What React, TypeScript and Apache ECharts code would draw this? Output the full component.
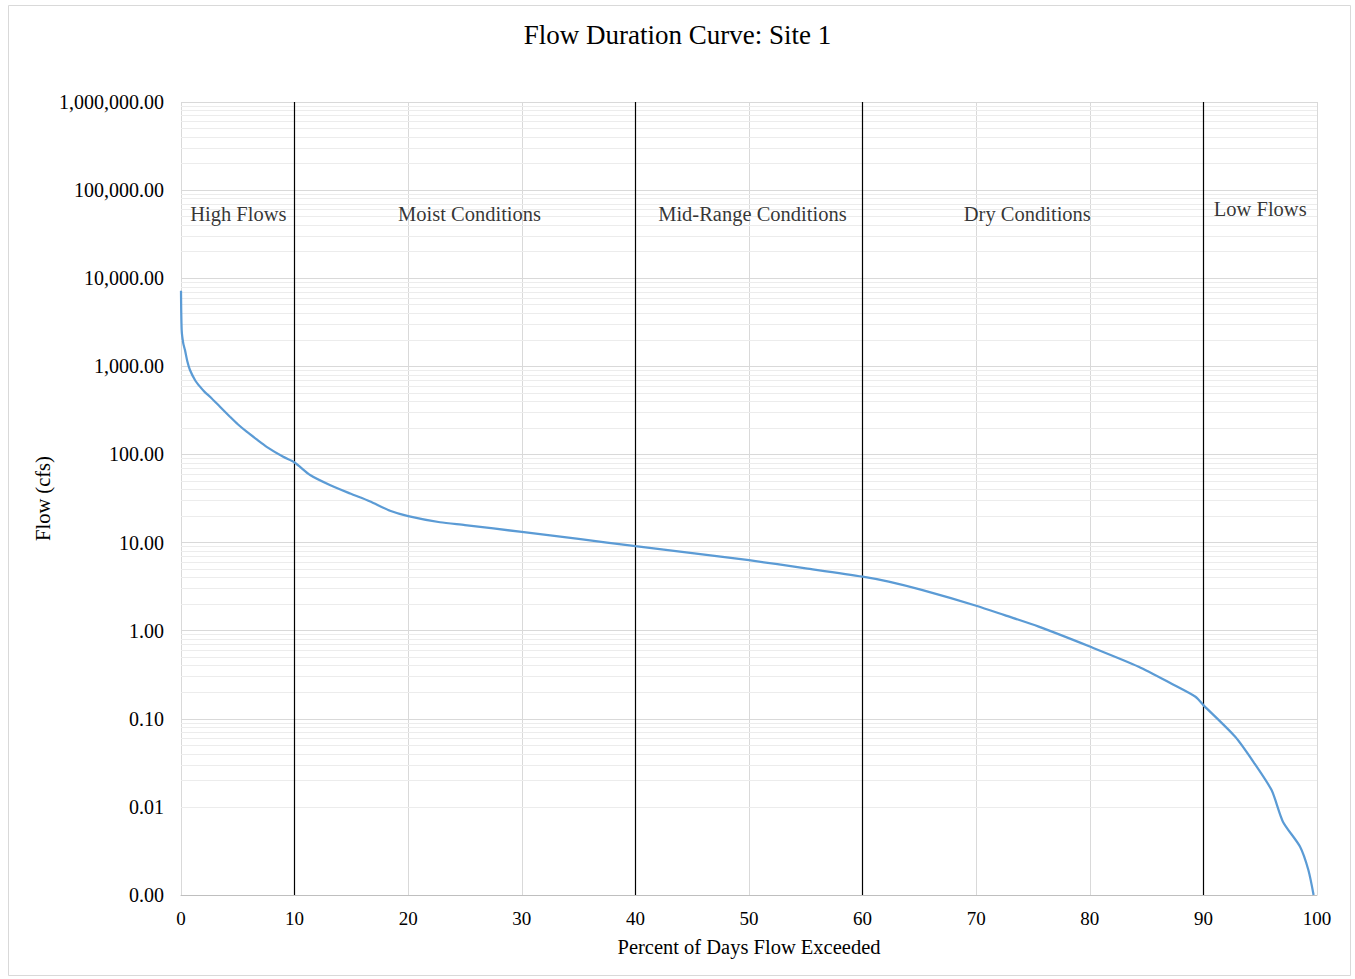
import React, { useEffect, useRef } from "react";
import * as echarts from "echarts";

const percentExceeded = [
  0, 0.06, 0.2, 0.35, 0.55, 0.79, 1.23, 1.67, 2.1, 2.55, 3.43, 4.31, 5.0, 5.78, 6.6, 7.54, 9.0, 10,
  11.4, 13.1, 14.9, 16.6, 18.4, 20, 22.8, 25, 30, 35, 40, 45, 50, 55, 60, 62.3, 65.2, 70, 72.5, 75.5,
  80, 84.3, 87.2, 89.3, 90, 92.8, 94.4, 96.0, 97.0, 98.5, 99.24, 99.7,
];
const flowCfs = [
  7200, 2570, 1820, 1530, 1150, 908, 700, 588, 510, 452, 348, 268, 220, 181, 150, 122, 94, 81,
  58, 45, 36, 29.5, 23, 20, 17, 15.8, 13.2, 11, 9.1, 7.6, 6.3, 5.1, 4.1, 3.6, 2.9, 1.92, 1.5, 1.11,
  0.66, 0.39, 0.25, 0.178, 0.143, 0.0625, 0.0325, 0.0155, 0.0068, 0.00355, 0.00192, 0.001,
];

const xTicks = [0, 10, 20, 30, 40, 50, 60, 70, 80, 90, 100];
const decades = [0.001, 0.01, 0.1, 1, 10, 100, 1000, 10000, 100000];
const minorMultipliers = [2, 3, 4, 5, 6, 7, 8, 9];
const zoneBoundaries = [10, 40, 60, 90];
const zoneNames = ["High Flows", "Moist Conditions", "Mid-Range Conditions", "Dry Conditions", "Low Flows"];
const zoneCenters = [5.05, 25.4, 50.3, 74.5, 95];
const zoneLabelFlow = [53000, 53000, 53000, 53000, 61000];

const FONT = "'Liberation Serif', 'Times New Roman', serif";

export default function App() {
  const ref = useRef<HTMLDivElement>(null);
  useEffect(() => {
    if (!ref.current) return;
    const chart = echarts.init(ref.current, null, { renderer: "svg" });
    const minorValues: number[] = [];
    decades.forEach((d) => minorMultipliers.forEach((m) => minorValues.push(d * m)));
    const fmt = (v: number) =>
      Number(v).toLocaleString("en-US", { minimumFractionDigits: 2, maximumFractionDigits: 2 });

    chart.setOption({
      animation: false,
      backgroundColor: "#ffffff",
      textStyle: { fontFamily: FONT },
      title: {
        text: "Flow Duration Curve: Site 1",
        left: "center",
        top: 16,
        textStyle: { fontFamily: FONT, fontSize: 27, fontWeight: "normal", color: "#000" },
      },
      graphic: [
        {
          type: "rect",
          shape: { x: 8.5, y: 5.5, width: 1342, height: 970 },
          style: { fill: "none", stroke: "#d9d9d9", lineWidth: 1 },
          silent: true,
        },
      ],
      grid: { left: 181, top: 102, right: 38, bottom: 84, containLabel: false },
      xAxis: {
        type: "value",
        min: 0,
        max: 100,
        interval: 10,
        name: "Percent of Days Flow Exceeded",
        nameLocation: "middle",
        nameGap: 41,
        nameMoveOverlap: false,
        nameTextStyle: { fontFamily: FONT, fontSize: 20.5, color: "#000" },
        axisLine: { show: true, lineStyle: { color: "#bfbfbf", width: 1 } },
        axisTick: { show: false },
        axisLabel: {
          fontFamily: FONT,
          fontSize: 19,
          color: "#000",
          margin: 14,
          customValues: xTicks,
        },
        splitLine: { show: true, lineStyle: { color: "#d9d9d9", width: 1 } },
      },
      yAxis: {
        type: "log",
        logBase: 10,
        min: 0.001,
        max: 1000000,
        splitNumber: 9,
        name: "Flow (cfs)",
        nameLocation: "middle",
        nameGap: 128,
        nameMoveOverlap: false,
        nameTextStyle: { fontFamily: FONT, fontSize: 20.5, color: "#000" },
        axisLine: { show: false },
        axisTick: { show: false },
        axisLabel: {
          fontFamily: FONT,
          fontSize: 20,
          color: "#000",
          margin: 17,
          formatter: (v: number) => fmt(v),
        },
        splitLine: { show: true, lineStyle: { color: "#d9d9d9", width: 1 } },
      },
      series: [
        {
          type: "line",
          name: "minor",
          data: [],
          silent: true,
          z: 1,
          markLine: {
            silent: true,
            symbol: "none",
            label: { show: false },
            lineStyle: { color: "#ececec", type: "solid", width: 1 },
            data: minorValues.map((v) => ({ yAxis: v })),
          },
        },
        {
          type: "line",
          name: "zones",
          data: [],
          silent: true,
          z: 3,
          markLine: {
            silent: true,
            symbol: "none",
            label: { show: false },
            lineStyle: { color: "#000000", type: "solid", width: 1.2 },
            data: zoneBoundaries.map((v) => ({ xAxis: v })),
          },
        },
        {
          type: "line",
          name: "Flow",
          data: percentExceeded.map((p, i) => [p, flowCfs[i]]),
          showSymbol: false,
          smooth: 0.25,
          z: 5,
          lineStyle: { color: "#5B9BD5", width: 2.25 },
          itemStyle: { color: "#5B9BD5" },
        },
        {
          type: "scatter",
          name: "labels",
          symbolSize: 0,
          silent: true,
          z: 6,
          data: zoneNames.map((n, i) => [zoneCenters[i], zoneLabelFlow[i], n]),
          label: {
            show: true,
            position: "inside",
            formatter: (p: any) => p.data[2],
            fontFamily: FONT,
            fontSize: 20.5,
            color: "#000",
          },
        },
      ],
    });
    return () => chart.dispose();
  }, []);
  return (
    <div
      ref={ref}
      style={{ position: "absolute", left: 0, top: 0, width: 1355, height: 979 }}
    />
  );
}
